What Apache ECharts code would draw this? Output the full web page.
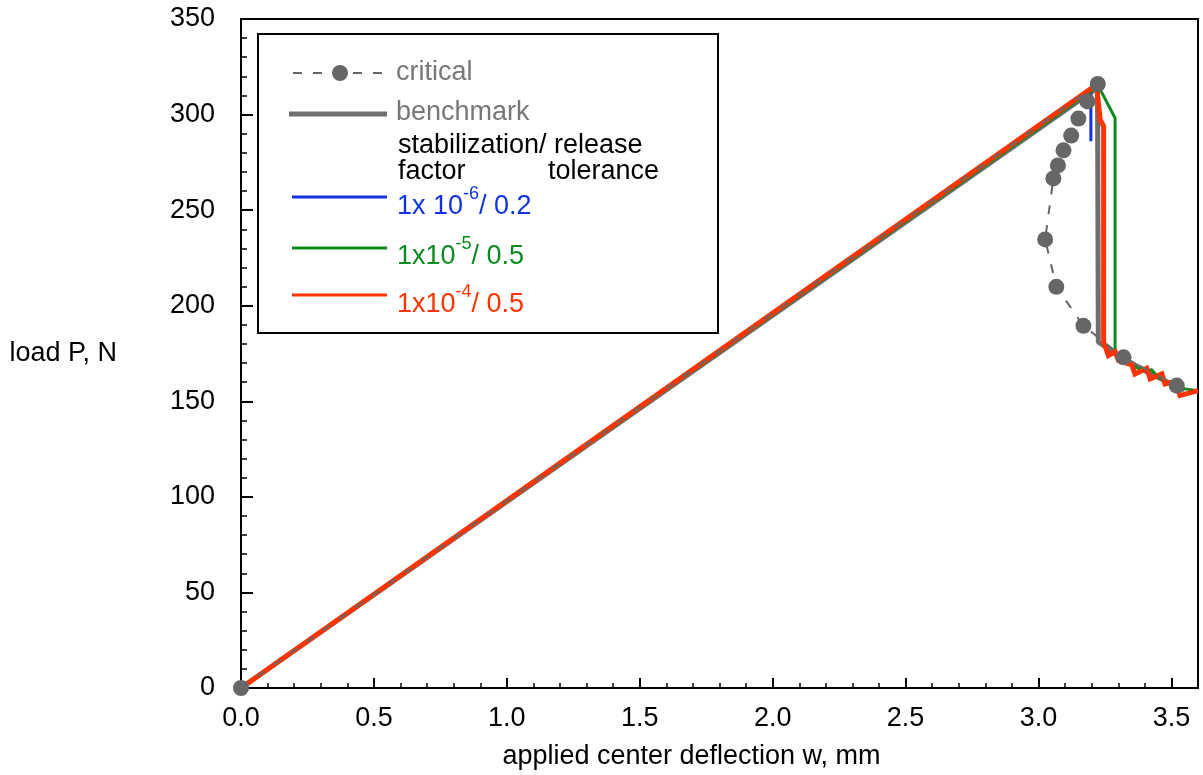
<!DOCTYPE html>
<html>
<head>
<meta charset="utf-8">
<script src="https://cdn.jsdelivr.net/npm/echarts@6/dist/echarts.min.js"></script>
<style>
html,body{margin:0;padding:0;background:#fff;}
#chart{width:1203px;height:775px;}
</style>
</head>
<body>
<div id="chart"></div>
<script>
// ---- data (w in mm, P in N) ----
const criticalW = [0, 3.223, 3.184, 3.150, 3.123, 3.094, 3.073, 3.056, 3.025, 3.067, 3.169, 3.320, 3.520];
const criticalP = [0, 316, 306.9, 297.9, 289, 281.3, 273.4, 266.6, 234.7, 209.9, 189.5, 173, 158.2];

const benchmarkW = [0, 3.222, 3.225, 3.30, 3.40, 3.50, 3.55];
const benchmarkP = [0, 314, 181, 174, 166, 159, 156];

const blueW = [0, 3.197, 3.197];
const blueP = [0, 313.5, 286];

const greenW = [0, 3.225, 3.288, 3.288, 3.30, 3.35, 3.40, 3.426, 3.45, 3.50, 3.55, 3.60];
const greenP = [0, 315, 298.2, 177, 173.5, 168.5, 166, 166.5, 162.5, 159, 156.5, 155.5];

const redW = [0, 3.218, 3.232, 3.245, 3.245, 3.263, 3.288, 3.301, 3.351, 3.363, 3.407, 3.420, 3.464, 3.476, 3.515, 3.532, 3.60];
const redP = [0, 315.6, 297.3, 293.8, 181, 173.9, 176, 171.3, 169, 164.3, 167.3, 161.7, 164.3, 159.1, 160.5, 153, 155.6];

const xTickLabels = ['0.0','0.5','1.0','1.5','2.0','2.5','3.0','3.5'];

const FONT = '"Liberation Sans", Arial, Helvetica, sans-serif';
const FS = 27;
function pairs(xs, ys){ return xs.map((x,i)=>[x, ys[i]]); }

const chart = echarts.init(document.getElementById('chart'), null, {renderer:'canvas'});

const sup = (base, exp, tail, color) => ({
  type:'text',
  style:{
    text:'{a|' + base + '}{s|' + exp + '}{a|' + tail + '}',
    fill: color,
    font: FS + 'px ' + FONT,
    rich:{
      a:{fontSize:FS, fontFamily:FONT, fill:color, lineHeight:44, verticalAlign:'middle'},
      s:{fontSize:18, fontFamily:FONT, fill:color, lineHeight:18, verticalAlign:'top'}
    },
    verticalAlign:'middle'
  }
});

const legendG = [
  {type:'rect', shape:{x:258, y:34, width:460, height:299}, style:{fill:'#fff', stroke:'#000', lineWidth:2}, z:10},
  {type:'line', shape:{x1:293, y1:73, x2:387, y2:73}, style:{stroke:'#666', lineWidth:2, lineDash:[9,11]}, z:11},
  {type:'circle', shape:{cx:340, cy:73, r:8}, style:{fill:'#666'}, z:11},
  {type:'text', x:396, y:73, style:{text:'critical', fill:'#777', font:FS + 'px ' + FONT, verticalAlign:'middle'}, z:11},
  {type:'line', shape:{x1:289, y1:114, x2:387, y2:114}, style:{stroke:'#6e6e6e', lineWidth:5}, z:11},
  {type:'text', x:396, y:113, style:{text:'benchmark', fill:'#777', font:FS + 'px ' + FONT, verticalAlign:'middle'}, z:11},
  {type:'text', x:398, y:146, style:{text:'stabilization/ release', fill:'#000', font:FS + 'px ' + FONT, verticalAlign:'middle'}, z:11},
  {type:'text', x:398, y:172, style:{text:'factor', fill:'#000', font:FS + 'px ' + FONT, verticalAlign:'middle'}, z:11},
  {type:'text', x:548, y:172, style:{text:'tolerance', fill:'#000', font:FS + 'px ' + FONT, verticalAlign:'middle'}, z:11},
  {type:'line', shape:{x1:292, y1:197, x2:387, y2:197}, style:{stroke:'#1133dd', lineWidth:3}, z:11},
  Object.assign(sup('1x 10','-6','/ 0.2','#1133dd'), {x:397, y:207, z:11}),
  {type:'line', shape:{x1:292, y1:248, x2:387, y2:248}, style:{stroke:'#0a8a1f', lineWidth:3}, z:11},
  Object.assign(sup('1x10','-5','/ 0.5','#0a8a1f'), {x:397, y:257, z:11}),
  {type:'line', shape:{x1:292, y1:295, x2:387, y2:295}, style:{stroke:'#ff3300', lineWidth:3}, z:11},
  Object.assign(sup('1x10','-4','/ 0.5','#ff3300'), {x:397, y:305, z:11})
];

const option = {
  animation:false,
  backgroundColor:'#fff',
  textStyle:{fontFamily:FONT},
  grid:{left:241, right:5, top:19, bottom:85, containLabel:false, show:true, borderColor:'#000', borderWidth:2},
  xAxis:[
    {type:'value', min:0, max:3.6, interval:0.5, position:'bottom',
     axisLine:{show:true, onZero:false, lineStyle:{color:'#000', width:2}},
     axisTick:{show:true, inside:true, length:10, lineStyle:{color:'#000', width:2}},
     axisLabel:{fontSize:FS, color:'#000', fontFamily:FONT, margin:17,
       formatter:function(v){ const k = Math.round(v/0.5); return Math.abs(v - k*0.5) < 1e-6 && k < xTickLabels.length ? xTickLabels[k] : ''; }},
     splitLine:{show:false},
     name:'applied center deflection w, mm', nameLocation:'middle', nameGap:55,
     nameTextStyle:{fontSize:FS, color:'#000', fontFamily:FONT, padding:[0,56,0,0]}
    },
    {type:'value', min:0, max:3.6, interval:0.1, position:'bottom',
     axisLine:{show:false, onZero:false},
     axisTick:{show:true, inside:true, length:5, lineStyle:{color:'#000', width:1.5}},
     axisLabel:{show:false}, splitLine:{show:false}
    }
  ],
  yAxis:{type:'value', min:0, max:350, interval:50,
    axisLine:{show:true, onZero:false, lineStyle:{color:'#000', width:2}},
    axisTick:{show:true, inside:true, length:12, lineStyle:{color:'#000', width:2}},
    minorTick:{show:true, splitNumber:5, length:6, lineStyle:{color:'#000', width:1.5}},
    axisLabel:{fontSize:FS, color:'#000', fontFamily:FONT, margin:26},
    splitLine:{show:false},
    name:'load P, N', nameLocation:'middle', nameRotate:0, nameGap:124,
    nameTextStyle:{fontSize:FS, color:'#000', fontFamily:FONT}
  },
  series:[
    {name:'benchmark', type:'line', xAxisIndex:0, data:pairs(benchmarkW, benchmarkP), showSymbol:false, symbol:'none',
     lineStyle:{color:'#6e6e6e', width:5}, itemStyle:{color:'#6e6e6e'}, z:2},
    {name:'1x10^-6 / 0.2', type:'line', xAxisIndex:0, data:pairs(blueW, blueP), showSymbol:false, symbol:'none',
     lineStyle:{color:'#1133dd', width:3}, itemStyle:{color:'#1133dd'}, z:3},
    {name:'1x10^-5 / 0.5', type:'line', xAxisIndex:0, data:pairs(greenW, greenP), showSymbol:false, symbol:'none',
     lineStyle:{color:'#0a8a1f', width:3}, itemStyle:{color:'#0a8a1f'}, z:4},
    {name:'1x10^-4 / 0.5', type:'line', xAxisIndex:0, data:pairs(redW, redP), showSymbol:false, symbol:'none',
     lineStyle:{color:'#ff3300', width:5, join:'miter'}, itemStyle:{color:'#ff3300'}, z:5},
    {name:'critical', type:'line', xAxisIndex:0, data:pairs(criticalW, criticalP), symbol:'circle', symbolSize:16, showSymbol:true,
     lineStyle:{color:'#666', width:2, type:[9,11]}, itemStyle:{color:'#666'}, z:6}
  ],
  graphic:legendG
};
chart.setOption(option);
</script>
</body>
</html>
